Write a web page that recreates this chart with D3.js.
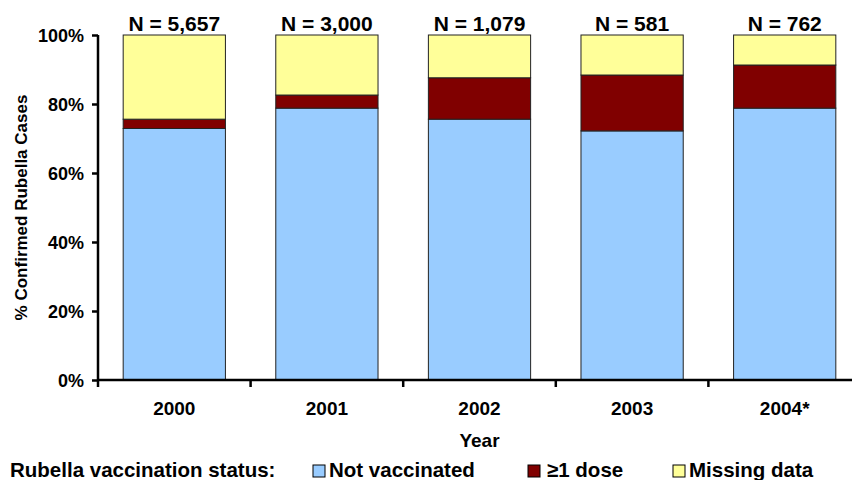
<!DOCTYPE html>
<html>
<head>
<meta charset="utf-8">
<script src="https://cdn.jsdelivr.net/npm/d3@7"></script>
<style>
  body { margin: 0; background: #fff; }
  svg { display: block; font-family: "Liberation Sans", Arial, sans-serif; font-weight: bold; }
</style>
</head>
<body>
<svg id="chart"></svg>
<script>
// data (percent of confirmed rubella cases)
const years = ["2000", "2001", "2002", "2003", "2004*"];
const totals = ["N = 5,657", "N = 3,000", "N = 1,079", "N = 581", "N = 762"];
const notVaccinated = [72.9, 78.8, 75.6, 72.2, 78.8];
const oneDose = [2.7, 3.8, 12.0, 16.2, 12.5];
const missingData = [24.4, 17.4, 12.4, 11.6, 8.7];
const yTicks = [0, 20, 40, 60, 80, 100];

const seriesNames = ["Not vaccinated", "\u22651 dose", "Missing data"];
const seriesColors = ["#99ccff", "#800000", "#ffff99"];

// constants
const width = 852;
const height = 480;
const margin = { left: 98, right: -9, top: 35, bottom: 100 };
const visWidth = width - margin.left - margin.right;
const visHeight = height - margin.top - margin.bottom;

const svg = d3.select('#chart')
  .attr('width', width)
  .attr('height', height);

const chart = svg.append('g')
  .attr('transform', 'translate(' + margin.left + ',' + margin.top + ')');

// build rows for the stack layout
const rows = years.map((y, i) => ({
  year: y,
  "Not vaccinated": notVaccinated[i],
  "\u22651 dose": oneDose[i],
  "Missing data": missingData[i]
}));

const stacked = d3.stack().keys(seriesNames)(rows);

const xScale = d3.scaleBand()
  .domain(years)
  .range([0, visWidth])
  .paddingInner(0.33)
  .paddingOuter(0.165);

const yScale = d3.scaleLinear()
  .domain([0, 100])
  .range([visHeight, 0]);

const colorScale = d3.scaleOrdinal()
  .domain(seriesNames)
  .range(seriesColors);

// bars
chart.selectAll('.series')
  .data(stacked)
  .enter().append('g')
  .attr('class', 'series')
  .attr('fill', d => colorScale(d.key))
  .selectAll('rect')
  .data(d => d)
  .enter().append('rect')
  .attr('x', d => xScale(d.data.year))
  .attr('y', d => yScale(d[1]))
  .attr('width', xScale.bandwidth())
  .attr('height', d => yScale(d[0]) - yScale(d[1]))
  .attr('stroke', '#222')
  .attr('stroke-width', 1);

// N labels above bars
chart.selectAll('.n-label')
  .data(years)
  .enter().append('text')
  .attr('class', 'n-label')
  .attr('x', d => xScale(d) + xScale.bandwidth() / 2)
  .attr('y', -4)
  .attr('text-anchor', 'middle')
  .style('font-size', '21px')
  .text((d, i) => totals[i]);

// y axis
const yAxis = chart.append('g')
  .call(d3.axisLeft(yScale).tickValues(yTicks).tickSize(6).tickFormat(d => d + '%'));
yAxis.select('.domain').attr('stroke', '#000').attr('stroke-width', 2.5).attr('d', 'M0,' + visHeight + 'V0');
yAxis.selectAll('.tick line').attr('stroke-width', 2.5);
yAxis.selectAll('.tick text')
  .attr('x', -14)
  .attr('dy', '0.36em')
  .style('font-size', '18px')
  .style('font-family', '"Liberation Sans", Arial, sans-serif')
  .style('font-weight', 'bold')
  .attr('fill', '#000');

// x axis: ticks sit between the categories
const step = xScale.step();
const xBoundaries = d3.range(years.length).map(i => i * step);
const xAxis = chart.append('g')
  .attr('transform', 'translate(0,' + visHeight + ')');
xAxis.append('line')
  .attr('x1', 0)
  .attr('x2', visWidth)
  .attr('stroke', '#000')
  .attr('stroke-width', 2.5);
xAxis.selectAll('.xtick')
  .data(xBoundaries)
  .enter().append('line')
  .attr('class', 'xtick')
  .attr('x1', d => d)
  .attr('x2', d => d)
  .attr('y1', 0)
  .attr('y2', 7)
  .attr('stroke', '#000')
  .attr('stroke-width', 2.5);
xAxis.selectAll('.xlabel')
  .data(years)
  .enter().append('text')
  .attr('class', 'xlabel')
  .attr('x', d => xScale(d) + xScale.bandwidth() / 2)
  .attr('y', 35)
  .attr('text-anchor', 'middle')
  .style('font-size', '19px')
  .text(d => d);

// axis titles
svg.append('text')
  .attr('x', margin.left + xScale('2002') + xScale.bandwidth() / 2)
  .attr('y', 447)
  .attr('text-anchor', 'middle')
  .style('font-size', '19px')
  .text('Year');

svg.append('text')
  .attr('transform', 'translate(27,' + (margin.top + visHeight / 2) + ') rotate(-90)')
  .attr('text-anchor', 'middle')
  .style('font-size', '17px')
  .text('% Confirmed Rubella Cases');

// legend
const legendY = 477;
svg.append('text')
  .attr('x', 10)
  .attr('y', legendY)
  .style('font-size', '20.5px')
  .text('Rubella vaccination status:');

const legendX = [313, 528, 673];
const legend = svg.selectAll('.legend')
  .data(seriesNames)
  .enter().append('g')
  .attr('class', 'legend')
  .attr('transform', (d, i) => 'translate(' + legendX[i] + ',' + legendY + ')');
legend.append('rect')
  .attr('x', 0)
  .attr('y', -12)
  .attr('width', 12)
  .attr('height', 12)
  .attr('fill', d => colorScale(d))
  .attr('stroke', '#000')
  .attr('stroke-width', 1);
legend.append('text')
  .attr('x', (d, i) => i === 1 ? 19 : 16)
  .attr('y', 0)
  .style('font-size', '20.5px')
  .text(d => d);
</script>
</body>
</html>
